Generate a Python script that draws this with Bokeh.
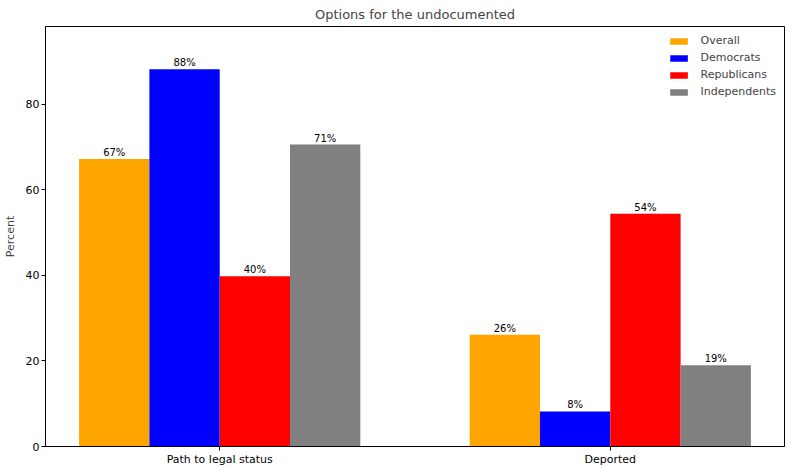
from bokeh.plotting import figure
from bokeh.models import Range1d, FixedTicker, ColumnDataSource, Legend, LegendItem
from bokeh.embed import file_html
from bokeh.resources import INLINE
from bokeh.core.properties import value

categories = ["Path to legal status", "Deported"]
series = ["Overall", "Democrats", "Republicans", "Independents"]
colors = ["orange", "blue", "red", "gray"]
overall = [67.2, 26.1]
democrats = [88.2, 8.2]
republicans = [39.8, 54.4]
independents = [70.6, 19.0]
y_ticks = [0, 20, 40, 60, 80]

values = [overall, democrats, republicans, independents]
bar_w = 0.18
FONT = "DejaVu Sans"

p = figure(frame_width=739, frame_height=420, output_backend="svg", toolbar_location=None,
           x_range=Range1d(-0.446, 1.446), y_range=Range1d(0, 98.2),
           min_border_left=10, min_border_right=6, min_border_top=0, min_border_bottom=0)
p.title.text = "Options for the undocumented"
p.title.align = "center"
p.title.text_font = FONT
p.title.text_font_size = "13px"
p.title.text_font_style = "normal"
p.title.standoff = 9

items = []
xs_all = list(range(len(categories)))
for i, (name, vals, col) in enumerate(zip(series, values, colors)):
    off = (i - 1.5) * bar_w
    src = ColumnDataSource(dict(x=[x + off for x in xs_all], top=vals,
                                lab=[f"{round(v)}%" for v in vals]))
    r = p.vbar(x="x", top="top", width=bar_w, bottom=0, source=src, fill_color=col, line_color=None)
    p.text(x="x", y="top", text="lab", source=src, text_align="center", text_baseline="bottom",
           y_offset=-1, text_font=value(FONT), text_font_size="10px", text_color="black")
    items.append(LegendItem(label=name, renderers=[r]))

legend = Legend(items=items, location="top_right", border_line_color=None,
                background_fill_alpha=0, label_text_font=FONT, label_text_font_size="11px",
                glyph_width=22, glyph_height=8, label_height=13, spacing=4,
                label_standoff=11, padding=3, margin=8)
p.add_layout(legend)

p.grid.visible = False
p.outline_line_color = "black"
p.outline_line_width = 1

p.xaxis.ticker = FixedTicker(ticks=xs_all)
p.xaxis.major_label_overrides = {i: c for i, c in enumerate(categories)}
p.yaxis.ticker = FixedTicker(ticks=y_ticks)
p.yaxis.axis_label = "Percent"
for ax in (p.xaxis, p.yaxis):
    ax.minor_tick_line_color = None
    ax.major_tick_in = 0
    ax.major_tick_out = 4
    ax.major_label_text_font = FONT
    ax.major_label_text_font_size = "11px"
    ax.major_label_standoff = 2
    ax.axis_line_color = "black"
    ax.major_tick_line_color = "black"
    ax.major_label_text_color = "black"
p.yaxis.axis_label_text_font = FONT
p.yaxis.axis_label_text_font_size = "11px"
p.yaxis.axis_label_text_font_style = "normal"
p.yaxis.axis_label_standoff = 6

open("out.html", "w").write(file_html(p, INLINE))
